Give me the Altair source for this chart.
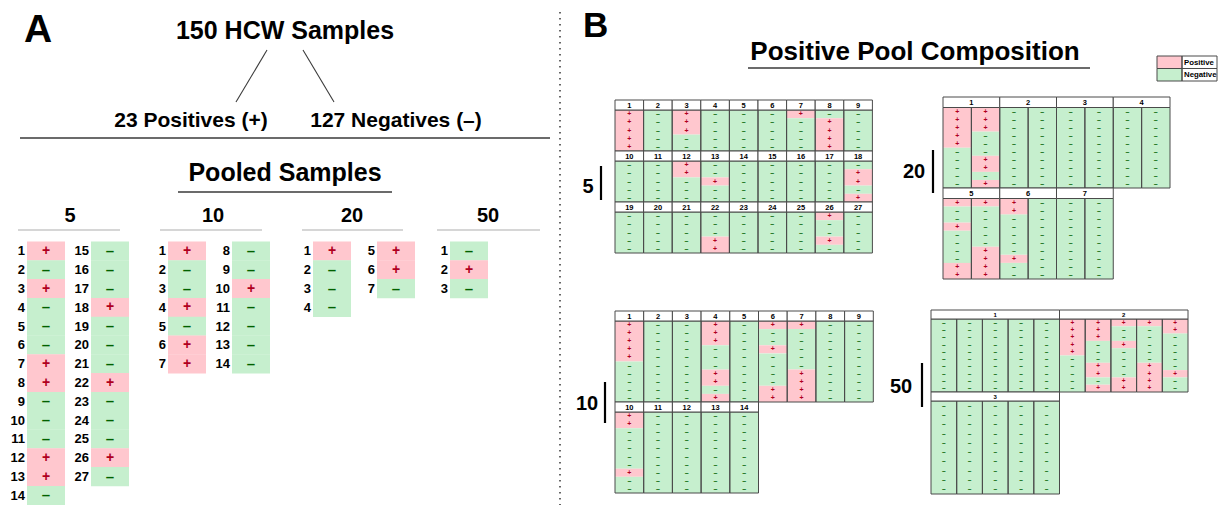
import math
import altair as alt
import pandas as pd

alt.data_transformers.disable_max_rows()

# ---------------- data ----------------
PANEL_A_TITLE = "150 HCW Samples"
BRANCH_LABELS = ["23 Positives (+)", "127 Negatives (–)"]
POOLED_TITLE = "Pooled Samples"
POOL_SIZES = [5, 10, 20, 50]
POOL_COUNTS = [27, 14, 7, 3]
POSITIVE_POOLS = [
    [1, 3, 7, 8, 12, 13, 18, 22, 26],
    [1, 4, 6, 7, 10],
    [1, 5, 6],
    [2],
]
LIST_ROWS_FIRST_COL = [14, 7, 4, 3]

PANEL_B_TITLE = "Positive Pool Composition"
LEGEND_LABELS = ["Positive", "Negative"]
GRID_SUBCOLS = [1, 1, 2, 5]        # sub-columns per pool
GRID_ROWS = [5, 10, 10, 10]        # samples per sub-column
GRID_POOLS_PER_ROW = [9, 9, 4, 2]
# positive samples: (pool, sub-column) -> row indices
GRID_POSITIVES = [
    {(1, 0): [0, 1, 2, 3, 4], (3, 0): [0, 1, 2], (7, 0): [0], (8, 0): [1, 2, 3, 4],
     (12, 0): [0, 1], (13, 0): [2], (18, 0): [1, 2, 4], (22, 0): [3, 4], (26, 0): [0, 3]},
    {(1, 0): [0, 1, 2, 3, 4], (4, 0): [0, 1, 2, 6, 7, 9], (6, 0): [0, 3, 8, 9],
     (7, 0): [0, 6, 7, 8, 9], (10, 0): [0, 1, 7]},
    {(1, 0): [0, 1, 2, 3, 4], (1, 1): [0, 1, 2, 6, 7, 9], (5, 0): [0, 3, 8, 9],
     (5, 1): [0, 6, 7, 8, 9], (6, 0): [0, 1, 7]},
    {(2, 0): [0, 1, 2, 3, 4], (2, 1): [0, 1, 2, 6, 7, 9], (2, 2): [0, 3, 8, 9],
     (2, 3): [0, 6, 7, 8, 9], (2, 4): [0, 1, 7]},
]

# ---------------- style / layout ----------------
FONT = "Liberation Sans, Arial, sans-serif"
PINK, GREEN = "#ffc7ce", "#c6efce"
RED_TXT, GREEN_TXT = "#b0001e", "#006100"
DARK = "#3a3a3a"

LIST_X0 = [27, 168, 313, 450]
LIST_COL_STEP = 64
LIST_CELL_W = 38
LIST_TOP = 241.5
LIST_ROW_H = 18.8
GROUP_LABEL_X = [70, 213, 352, 488]
GROUP_LINE_X = [(18, 120), (160, 262), (302, 403), (437, 540)]

GRID_X0 = [615, 615, 943, 931]
GRID_TOP = [100, 311, 97, 310]
GRID_POOL_W = [28.6, 28.7, 56.75, 128.5]
GRID_HEADER_H = [10, 10, 10.5, 9]
GRID_ROW_H = [[8.2, 8.2, 8.2], [8.1, 8.1], [8.05, 8.05], [7.3, 9.3]]
GRID_HEAD_FONT = [7.5, 7.5, 7.5, 6]
GRID_SYM_FONT = [7, 7, 7, 6.5]
# (label x, label baseline, bar x, bar y0, bar y1)
GRID_LABEL = [(588, 193, 601, 166, 200), (587, 410, 605, 382, 423),
              (914, 178, 933, 150, 193), (901, 393, 922, 363, 407)]

texts, fills, outlines, heads, rules = [], [], [], [], []


def T(x, y, s, size, color="#000", align="center", baseline="alphabetic"):
    texts.append(dict(x=x, y=y, text=str(s), size=size, color=color, align=align, baseline=baseline))


def R(x, y, x2, y2, color=DARK, sw=1.5):
    rules.append(dict(x=x, y=y, x2=x2, y2=y2, color=color, sw=sw))


# ---- Panel A ----
T(24, 42, "A", 39, align="left")
T(285, 39, PANEL_A_TITLE, 25)
T(191, 127, BRANCH_LABELS[0], 21)
T(396, 127, BRANCH_LABELS[1], 21)
R(267, 50, 236, 102, DARK, 1.1)
R(303, 50, 334, 102, DARK, 1.1)
R(20, 138, 550, 138, DARK, 1.5)
T(285, 181, POOLED_TITLE, 25)
R(178, 192, 392, 192, DARK, 1.5)

for g, size in enumerate(POOL_SIZES):
    T(GROUP_LABEL_X[g], 222, size, 20)
    a, b = GROUP_LINE_X[g]
    R(a, 230, b, 230, "#c8c8c8", 1.5)
    per = LIST_ROWS_FIRST_COL[g]
    for i in range(POOL_COUNTS[g]):
        pool = i + 1
        col, row = divmod(i, per)
        x0 = LIST_X0[g] + col * LIST_COL_STEP
        y0 = LIST_TOP + row * LIST_ROW_H
        pos = pool in POSITIVE_POOLS[g]
        fills.append(dict(x=x0, x2=x0 + LIST_CELL_W, y=y0, y2=y0 + LIST_ROW_H + 0.3,
                          fill=PINK if pos else GREEN))
        T(x0 - 2, y0 + LIST_ROW_H / 2 + 0.5, pool, 13, align="right", baseline="middle")
        T(x0 + LIST_CELL_W / 2, y0 + LIST_ROW_H / 2, "+" if pos else "–", 14 if pos else 15,
          color=RED_TXT if pos else GREEN_TXT, baseline="middle")

# dotted separator
dotted = [dict(x=560, y=0, y2=513)]

# ---- Panel B ----
T(583, 37, "B", 35, align="left")
T(915, 60, PANEL_B_TITLE, 26)
R(748, 68, 1090, 68, DARK, 1.5)

# legend
for i, lab in enumerate(LEGEND_LABELS):
    y0 = 56 + i * 12.5
    fills.append(dict(x=1157, x2=1182, y=y0, y2=y0 + 12.5, fill=PINK if i == 0 else GREEN))
    outlines.append(dict(x=1157, x2=1182, y=y0, y2=y0 + 12.5))
    outlines.append(dict(x=1182, x2=1217, y=y0, y2=y0 + 12.5))
    T(1184, y0 + 6.6, lab, 7.8, align="left", baseline="middle")

for g in range(4):
    n, per_row, sub, nrows = POOL_COUNTS[g], GRID_POOLS_PER_ROW[g], GRID_SUBCOLS[g], GRID_ROWS[g]
    W, hh = GRID_POOL_W[g], GRID_HEADER_H[g]
    cw = W / sub
    y = GRID_TOP[g]
    for br in range(math.ceil(n / per_row)):
        rh = GRID_ROW_H[g][br]
        for k in range(per_row):
            pool = br * per_row + k + 1
            if pool > n:
                break
            px = GRID_X0[g] + k * W
            heads.append(dict(x=px, x2=px + W, y=y, y2=y + hh))
            T(px + W / 2, y + hh / 2 + 0.5, pool, GRID_HEAD_FONT[g], baseline="middle")
            for c in range(sub):
                cx = px + c * cw
                plist = GRID_POSITIVES[g].get((pool, c), [])
                status = [r in plist for r in range(nrows)]
                # merge consecutive rows with the same result into one block
                start = 0
                for r in range(1, nrows + 1):
                    if r == nrows or status[r] != status[start]:
                        fills.append(dict(x=cx, x2=cx + cw, y=y + hh + start * rh, y2=y + hh + r * rh,
                                          fill=PINK if status[start] else GREEN))
                        start = r
                for r in range(nrows):
                    ry = y + hh + r * rh
                    pos = status[r]
                    T(cx + cw / 2, ry + rh / 2, "+" if pos else "–", GRID_SYM_FONT[g],
                      color=RED_TXT if pos else GREEN_TXT, baseline="middle")
                outlines.append(dict(x=cx, x2=cx + cw, y=y + hh, y2=y + hh + nrows * rh))
        y += hh + nrows * rh
    lx, lb, bx, by0, by1 = GRID_LABEL[g]
    T(lx, lb, POOL_SIZES[g], 20)
    R(bx, by0, bx, by1, "#000", 2.2)

# ---------------- chart ----------------
XS = alt.Scale(domain=[8, 1218], nice=False, zero=False)
YS = alt.Scale(domain=[8, 505], nice=False, zero=False, reverse=True)


def X(f="x"):
    return alt.X(f"{f}:Q", scale=XS, axis=None)


def Y(f="y"):
    return alt.Y(f"{f}:Q", scale=YS, axis=None)


fill_layer = alt.Chart(pd.DataFrame(fills)).mark_rect(strokeWidth=0).encode(
    x=X(), x2="x2:Q", y=Y(), y2="y2:Q", fill=alt.Fill("fill:N", scale=None))
outline_layer = alt.Chart(pd.DataFrame(outlines)).mark_rect(
    fillOpacity=0, stroke="#4a4a4a", strokeWidth=1).encode(x=X(), x2="x2:Q", y=Y(), y2="y2:Q")
head_layer = alt.Chart(pd.DataFrame(heads)).mark_rect(
    fill="#ffffff", stroke="#4a4a4a", strokeWidth=1).encode(x=X(), x2="x2:Q", y=Y(), y2="y2:Q")
rule_layer = alt.Chart(pd.DataFrame(rules)).mark_rule().encode(
    x=X(), x2="x2:Q", y=Y(), y2="y2:Q",
    color=alt.Color("color:N", scale=None), strokeWidth=alt.StrokeWidth("sw:Q", scale=None))
dot_layer = alt.Chart(pd.DataFrame(dotted)).mark_rule(
    color="#555555", strokeWidth=1.8, strokeDash=[1.6, 4.4]).encode(x=X(), y=Y(), y2="y2:Q")

tdf = pd.DataFrame(texts)
text_layers = []
for (al, bl), sub_df in tdf.groupby(["align", "baseline"]):
    text_layers.append(
        alt.Chart(sub_df.drop(columns=["align", "baseline"])).mark_text(
            align=al, baseline=bl, font=FONT, fontWeight="bold").encode(
            x=X(), y=Y(), text="text:N",
            size=alt.Size("size:Q", scale=None), color=alt.Color("color:N", scale=None)))

chart = alt.layer(fill_layer, outline_layer, head_layer, rule_layer, dot_layer, *text_layers).properties(
    width=1210, height=497, padding=0, autosize=alt.AutoSizeParams(type="none"), background="white"
).configure_view(stroke="transparent")

chart.save("out.html", embed_options={"renderer": "svg", "actions": False})
